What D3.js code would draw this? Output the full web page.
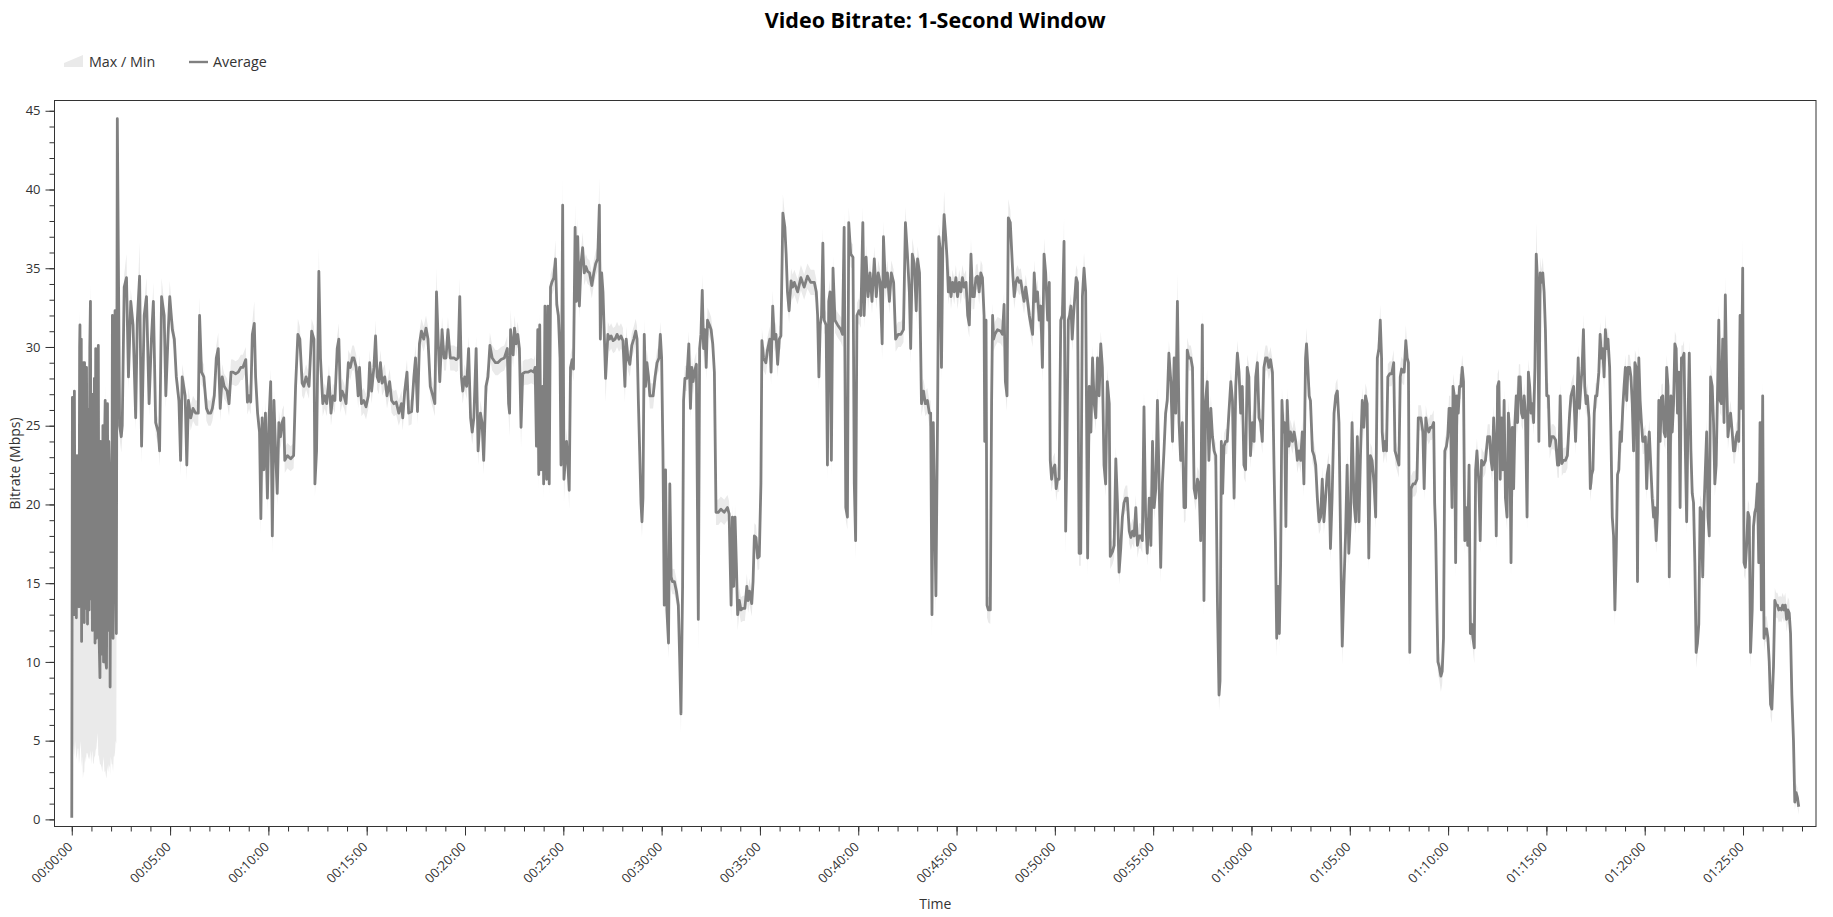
<!DOCTYPE html>
<html lang="en">
<meta charset="utf-8">
<title>Video Bitrate: 1-Second Window</title>
<script src="https://cdn.jsdelivr.net/npm/d3@7"></script>
<style>
  body { margin: 0; background: #fff; }
  svg { font-family: "Open Sans", sans-serif; }
  .axis .domain { display: none; }
  .axis line { stroke: #333; }
  .axis text { fill: #333; font-size: 13px; font-family: "Open Sans", sans-serif; }
</style>
<svg width="1833" height="917"></svg>
<script>
// time of each sample, seconds from start
var secs = [
  0,2,4,5,7,8,10,12,14,16,
  18,20,22,24,25,27,29,30,32,34,
  36,38,39,41,43,45,48,50,53,55,
  57,59,61,63,65,67,69,71,73,75,
  77,79,81,83,86,88,91,93,95,97,
  100,102,104,106,109,111,113,116,117,119,
  122,124,126,128,130,132,134,136,139,
  146,151,154,160,167,173,180,187,195,200,
  207,213,221,228,236,243,249,256,264,268,
  274,282,287,294,299,307,313,319,327,332,
  337,346,351,356,363,370,378,386,390,396,
  403,411,417,424,429,435,441,447,453,459,
  465,474,480,486,492,500,508,516,522,531,
  536,541,546,551,557,561,567,573,577,581,
  586,591,597,602,607,612,617,622,627,632,
  637,642,647,650,658,668,677,683,690,696,
  703,708,715,724,732,739,742,747,754,759,
  766,772,778,785,791,797,803,810,815,820,
  825,831,837,844,850,856,861,868,874,878,
  884,891,898,905,909,915,922,927,932,937,
  942,947,955,962,970,976,983,990,998,1006,
  1010,1016,1023,1028,1037,1044,1049,1055,1061,1067,
  1074,1081,1087,1094,1102,1108,1113,1118,1123,1130,
  1136,1142,1148,1155,1161,1167,1173,1179,1184,1189,
  1193,1199,1205,1211,1217,1222,1227,1234,1240,1247,
  1252,1257,1264,1270,1276,1283,1293,
  1300,1310,1320,1329,1333,1336,1339,1343,1347,1351,
  1356,1361,1366,1371,1376,1383,1392,1402,1410,1414,
  1418,1422,1425,1428,1432,1437,1440,1444,1449,1453,
  1457,1461,1465,1471,1476,1480,1485,1490,1493,1498,
  1502,1505,1510,1514,1518,1522,1527,1531,1536,1540,
  1544,1549,1554,1559,1564,1569,1574,1580,1587,1593,
  1599,1605,1610,1613,1617,1621,1625,1629,1636,1641,
  1646,1652,1658,1664,1670,1676,1682,1688,1692,1697,
  1703,1709,1715,1721,1725,1729,1733,1737,1740,1743,
  1747,1751,1755,1760,1764,1768,1774,1780,1786,1792,
  1796,1800,1804,1808,1812,1816,1821,1825,1829,1833,
  1839,1845,1851,1855,1859,1864,1867,1871,1877,1883,
  1888,1892,1896,1900,1906,1912,1916,1920,1924,1928,
  1932,1936,1940,1946,1951,1956,1961,1966,1973,1981,
  1991,2001,2006,2012,2016,2020,2024,2028,2032,2037,
  2042,2048,2054,2060,2064,2068,2075,2079,2083,2088,
  2093,2098,2103,2106,2111,2118,2123,2130,2134,2139,
  2144,2149,2154,2159,2164,2170,2176,2180,2184,2189,
  2195,2200,2205,2215,2225,2235,2245,2255,2266,2272,
  2276,2280,2284,2288,2292,2296,2302,2306,2310,2314,
  2318,2323,2329,2337,2347,2352,2357,2362,2367,2371,
  2377,2384,2388,2392,2396,2402,2408,2414,2418,2424,
  2430,2436,2442,2449,2455,2461,2467,2473,2477,2483,
  2489,2495,2501,2508,2514,2522,2530,2538,2544,2550,
  2556,2560,2565,2571,2577,2581,2587,2593,2599,2605,
  2611,2617,2621,2625,2629,
  2637,2642,2646,2650,2654,2658,2662,2667,2671,2675,
  2679,2683,2688,2693,2698,2703,2708,2713,2718,2723,
  2729,2734,2739,2744,2749,2754,2759,2764,2769,2774,
  2779,2784,2786,2790,2793,2797,2803,2807,2810,2813,
  2817,2825,2835,2840,2845,2849,2854,2858,2864,2868,
  2872,2876,2881,2886,2891,2896,2901,2906,2911,2917,
  2922,2927,2932,2937,2942,2947,2952,2957,2962,2967,
  2972,2978,2983,2986,2990,2994,3000,3004,3008,3013,
  3018,3023,3028,3033,3036,3041,3045,3049,3053,3057,
  3061,3065,3069,3074,3079,3084,3089,3094,3100,3105,
  3110,3115,3120,3125,3130,3135,3140,3145,3150,3155,
  3160,3166,3169,3176,3181,3186,3191,3196,3201,3206,
  3211,3216,3221,3227,3232,3237,3242,3247,3252,3257,
  3262,3267,3272,3277,3282,3288,3293,3298,3303,3308,
  3313,3318,3323,3328,3333,3338,3343,3348,3354,3359,
  3364,3369,3374,3379,3384,3389,3394,3399,3404,3409,
  3415,3420,3425,3430,3435,3440,3445,3450,3455,3460,
  3465,3470,3476,3481,3486,3491,3496,3501,3504,3508,
  3512,3516,3521,3526,3531,3537,3542,3547,3552,3557,
  3562,3567,3572,3577,3582,3587,3592,3597,3603,3608,
  3613,3618,3623,3628,3633,3638,3643,3648,3653,3658,
  3664,3669,3673,3677,3681,3685,3689,3693,3697,3701,
  3705,3709,3714,3719,3725,3730,3735,3740,3745,3750,
  3755,3760,3765,3768,3772,3776,3780,3786,3791,3796,
  3801,3806,3811,3816,3821,3826,3831,3836,3841,3846,
  3852,3857,3862,3867,3872,3877,3882,3887,3892,3897,
  3902,3907,3913,3918,3923,3928,3933,3938,3943,3948,
  3953,3958,3963,3968,3974,3979,3984,
  3989,3993,3997,3999,4003,4008,4012,4016,4022,4028,
  4034,4038,4042,4046,4050,4054,4058,4062,4066,4071,
  4075,4079,4083,4087,4093,4099,4105,4109,4113,4117,
  4123,4127,4132,4136,4141,4146,4151,4156,4159,4162,
  4166,4169,4173,4178,4182,4186,4190,4195,4199,4203,
  4207,4212,4215,4219,4223,4227,4231,4235,4239,4243,
  4247,4251,4256,4260,4264,4268,4272,4276,4280,4284,
  4288,4294,4298,4302,4308,4314,4321,4327,4331,4335,
  4339,4343,4347,4351,4355,4359,4363,4367,4371,4375,
  4380,4384,4388,4392,4396,4400,4404,4408,4412,4416,
  4420,4424,4428,4432,4436,4441,4445,4449,4453,4457,
  4461,4465,4469,4473,4477,4481,4485,4489,4493,4497,
  4501,4506,4510,4516,4522,4528,4534,4538,4542,4547,
  4552,4558,4564,4571,4575,4579,4583,4589,4593,4597,
  4601,4605,4609,4613,4617,4621,4625,4630,4634,4638,
  4642,4646,4650,4654,4660,4664,4668,4672,4676,4680,
  4684,4688,4693,4697,4701,4705,4709,4713,4717,4721,
  4725,4729,4733,4737,4741,4745,4749,4754,4758,4762,
  4766,4770,4774,4778,4782,4786,4790,4794,4798,4802,
  4806,4810,4814,4819,4823,4827,4831,4835,4839,4843,
  4847,4851,4855,4859,4863,4867,4871,4875,4880,4884,
  4888,4892,4896,4900,4904,4908,4912,4916,4920,4924,
  4928,4932,4936,4941,4945,4949,4953,4957,4961,4965,
  4969,4973,4977,4981,4985,4989,4993,4997,5001,5006,
  5010,5014,5018,5022,5026,5030,5034,5038,5042,5046,
  5050,5054,5058,5062,5067,5071,5075,5079,5083,5087,
  5091,5095,5099,5103,5107,5111,5115,5119,5123,5128,
  5132,5136,5140,5144,5148,5152,5156,5160,5164,5168,
  5172,5176,5180,5184,5188,5193,5197,5201,5205,5209,
  5213,5217,5221,5225,5229,5233,5237,5241,5245,5249,
  5254,5258,5262,5266,5270
];

// 1-second average bitrate, Mbps
var avgMbps = [
  0.1,26.8,14.0,26.8,13.0,27.2,15.0,23.0,12.8,23.1,
  14.5,22.5,13.5,30.0,31.4,16.0,30.5,11.3,28.0,14.0,
  29.0,12.5,29.0,15.0,13.4,28.7,12.4,26.0,13.3,30.0,
  32.9,14.0,27.0,12.0,26.0,13.0,28.0,11.2,29.9,11.5,
  28.0,12.0,30.1,12.0,9.0,24.0,21.3,10.5,25.0,10.0,
  24.0,26.6,10.0,9.6,26.4,12.0,24.0,21.3,8.4,20.0,
  12.0,32.0,11.5,30.0,14.0,32.3,15.0,11.8,44.5,
  25.0,24.3,25.0,33.8,34.4,28.1,32.9,31.4,25.5,31.7,
  34.5,23.7,32.0,33.2,26.4,30.5,32.9,25.2,24.6,23.4,
  33.2,32.0,26.9,30.8,33.2,31.1,30.5,28.1,26.6,22.8,
  28.1,26.9,22.5,26.6,25.5,26.1,25.8,25.8,32.0,28.4,
  28.1,26.1,25.8,25.8,26.1,26.9,29.3,29.9,26.1,28.1,
  27.5,27.2,26.4,28.4,28.4,28.3,28.4,28.7,28.7,29.2,
  26.5,26.9,26.5,30.8,31.5,28.1,25.8,24.6,19.1,25.5,
  22.2,25.8,20.4,25.5,27.8,18.0,26.6,23.4,20.7,25.2,
  24.3,25.2,25.5,22.8,23.1,22.9,23.1,27.5,30.8,30.5,
  27.7,27.5,28.1,27.5,31.0,30.5,21.3,23.4,34.8,29.3,
  26.4,26.9,26.4,28.1,25.8,26.9,26.6,29.9,30.5,26.6,
  27.2,26.9,26.4,29.0,28.7,29.3,29.3,28.7,26.9,28.7,
  26.4,26.6,26.2,26.9,29.0,27.2,28.7,30.7,28.1,27.8,
  29.0,27.7,28.1,26.9,27.8,26.6,26.4,26.5,25.8,26.4,
  25.5,27.2,28.4,25.8,25.9,28.1,29.3,25.9,30.2,31.0,
  30.5,31.2,30.5,27.5,26.9,26.4,33.5,30.5,27.8,31.1,
  29.3,29.3,31.1,29.3,29.3,29.3,29.2,29.3,33.2,28.1,
  27.2,28.1,27.5,29.9,25.5,24.6,25.5,29.9,23.4,25.8,
  25.2,22.8,27.5,28.1,30.1,29.3,29.0,
  29.0,29.2,29.3,29.9,26.4,25.8,31.1,30.2,29.5,31.2,
  30.2,30.8,29.9,24.9,28.3,28.4,28.4,28.5,28.4,28.7,
  23.7,31.1,21.9,31.4,22.2,27.5,21.3,32.6,21.6,32.6,
  21.3,33.8,34.1,34.4,35.6,32.7,32.0,29.3,22.5,39.0,
  21.6,22.5,24.0,22.5,20.9,28.7,29.2,28.6,37.6,32.9,
  37.0,32.6,35.3,36.3,34.7,35.1,34.8,34.7,33.9,34.7,
  35.3,35.6,39.0,30.5,34.7,33.5,30.8,28.0,30.8,30.5,
  30.7,30.4,30.5,30.8,30.5,30.7,30.4,27.5,30.5,29.3,
  28.9,30.1,30.5,31.0,30.5,26.6,23.4,20.1,18.9,20.4,
  30.8,27.5,29.0,28.1,26.9,26.9,26.9,28.1,29.0,29.3,
  30.8,29.3,23.4,13.6,22.2,13.3,11.2,21.3,15.4,15.1,
  15.1,14.5,13.6,10.3,6.7,14.8,26.6,28.0,28.0,30.2,
  26.1,28.7,27.8,28.4,28.9,12.7,29.9,30.8,33.6,29.9,
  31.1,28.7,31.7,31.4,31.1,30.2,28.4,19.5,19.5,19.7,
  19.5,19.8,19.4,13.6,19.2,14.8,19.2,16.3,13.0,13.9,
  13.3,13.4,13.4,14.8,13.9,14.5,13.7,15.1,18.0,17.9,
  16.6,16.7,21.3,30.4,29.3,29.0,29.8,30.5,28.4,32.6,
  30.5,30.8,28.9,30.5,30.7,38.5,37.6,35.9,33.5,32.3,
  34.2,33.8,34.1,33.5,34.4,33.8,34.5,34.1,34.1,33.5,
  32.0,28.1,31.4,32.0,36.6,31.7,31.4,22.5,32.9,33.5,
  22.8,35.0,31.7,31.4,31.1,30.8,37.6,19.8,19.2,37.9,
  35.9,35.7,21.3,17.7,32.0,32.3,32.0,37.9,32.0,35.7,
  33.2,34.7,32.9,35.6,33.2,34.7,34.1,30.2,37.0,33.8,
  34.7,32.9,34.7,34.1,30.5,30.8,30.8,31.1,37.9,35.9,
  33.5,29.9,35.9,35.3,32.3,35.6,34.7,26.4,27.2,26.4,
  26.6,25.8,25.8,13.0,25.2,
  14.2,25.5,37.0,36.2,28.7,36.2,38.4,37.0,35.6,33.5,
  34.4,33.2,34.1,33.5,34.4,33.2,34.1,33.5,34.4,33.8,
  34.1,32.0,31.4,35.9,33.2,33.2,34.4,34.5,33.5,34.7,
  34.4,32.0,24.0,31.7,13.6,13.3,13.3,26.6,32.0,30.5,
  30.8,31.1,31.0,30.8,32.7,27.8,26.9,38.2,37.9,36.2,
  34.5,33.2,34.1,34.4,34.1,34.2,33.5,32.9,33.8,32.9,
  32.0,31.4,30.8,34.7,32.9,33.5,31.7,32.6,28.7,35.9,
  34.7,31.7,34.1,22.8,21.6,22.2,22.5,21.0,21.6,21.6,
  31.7,32.0,36.7,18.3,22.5,31.7,32.0,32.6,30.5,32.0,
  33.2,34.4,34.1,16.9,16.9,33.2,35.0,33.5,16.6,27.5,
  24.6,29.3,26.4,25.5,29.3,26.9,30.2,28.7,22.5,21.3,
  27.8,26.4,16.7,17.0,17.4,22.9,20.1,15.7,17.2,19.2,
  20.1,20.4,20.4,18.3,17.9,18.3,18.0,19.8,17.4,18.0,
  18.0,17.7,26.2,19.2,16.9,20.4,17.4,24.0,19.8,21.0,
  26.6,21.6,16.0,21.3,23.4,25.8,26.6,29.6,27.8,24.0,
  29.3,25.8,32.9,25.2,22.8,25.2,19.8,19.8,29.8,29.3,
  29.3,28.7,21.0,20.4,21.6,21.3,17.7,31.4,13.9,26.6,
  27.8,22.8,26.1,24.3,23.4,23.1,13.9,7.9,8.8,24.0,
  20.7,23.7,24.0,24.0,25.8,27.8,26.6,20.4,27.5,29.6,
  28.4,25.8,27.5,22.5,22.2,28.7,28.1,23.1,25.2,24.0,
  28.1,29.0,25.5,25.2,24.0,28.7,29.3,29.3,28.7,29.2,
  28.4,22.2,17.7,11.5,14.8,11.8,16.3,26.6,24.6,25.2,
  18.6,26.6,23.7,24.6,24.0,24.6,24.0,22.8,23.4,22.8,
  24.6,21.3,29.3,30.2,28.7,26.9,26.6,23.4,23.1,22.5,
  20.4,18.9,19.2,21.6,18.9,20.4,21.9,22.5,17.2,20.4,
  25.8,26.9,27.2,25.2,17.7,11.0,14.8,18.0,22.5,16.9,
  19.2,25.2,20.1,18.9,24.3,18.9,23.4,26.6,24.9,26.9,
  26.4,16.6,23.1,22.8,21.3,19.2,29.3,
  29.9,31.7,29.3,24.6,23.4,24.0,23.4,28.1,28.3,28.3,
  29.0,23.4,23.1,22.8,22.5,28.1,28.6,28.4,28.4,30.4,
  29.3,29.0,10.6,21.0,21.3,21.3,21.6,25.5,25.5,25.5,
  24.6,21.0,25.5,24.9,24.6,24.9,24.9,25.2,20.1,18.3,
  13.3,10.0,9.7,9.1,9.4,11.5,23.4,23.7,24.3,26.1,
  26.1,19.8,27.5,26.9,16.3,26.9,25.8,27.5,27.5,28.7,
  27.8,17.7,19.8,17.4,22.5,11.8,12.4,11.5,10.9,22.2,
  23.4,21.3,17.7,22.8,22.5,22.8,24.3,24.3,22.8,22.2,
  25.5,23.7,18.0,27.5,27.8,21.6,25.5,22.2,26.6,20.4,
  19.2,25.8,24.6,16.3,24.9,21.0,25.2,26.9,25.2,28.1,
  28.1,25.8,25.5,26.9,25.8,19.2,28.4,27.5,25.8,26.4,
  25.2,28.7,35.9,34.1,24.0,34.7,34.1,34.7,33.5,31.1,
  26.9,26.9,23.7,24.3,24.3,24.1,22.5,22.5,26.9,22.6,
  22.8,22.8,23.1,25.8,26.9,27.2,27.5,24.0,26.4,29.3,
  26.1,27.5,28.7,31.1,27.5,26.4,26.9,25.5,21.0,21.9,
  22.2,25.8,26.9,26.9,28.4,30.8,29.3,29.9,28.1,31.1,
  29.9,30.5,28.7,24.3,19.2,18.0,13.3,16.9,21.9,22.2,
  24.6,24.0,26.1,27.5,28.7,26.6,28.7,28.7,28.1,26.4,
  23.4,29.0,28.7,15.1,29.3,26.6,25.2,24.0,24.0,24.3,
  21.0,23.4,24.6,22.2,20.4,19.2,19.8,17.7,19.5,26.6,
  24.0,26.8,26.9,24.6,24.3,28.7,27.5,15.4,26.9,24.6,
  26.4,30.2,29.9,25.8,28.4,19.8,29.3,29.3,29.6,23.4,
  18.9,25.2,29.6,23.4,20.7,20.1,16.3,10.6,11.2,12.4,
  19.8,19.5,15.4,19.8,22.2,24.6,19.2,18.0,28.1,27.5,
  25.2,21.3,22.5,26.9,31.7,26.6,26.4,30.5,25.2,33.3,
  28.1,24.3,25.2,25.8,24.6,23.4,23.4,24.3,24.6,24.0,
  32.0,26.1,35.0,16.3,16.0,17.4,19.5,19.2,10.6,13.3,
  18.6,19.5,19.8,21.3,16.3,25.2,13.3,26.9,11.5,12.1,
  12.1,11.5,10.0,7.3,7.0,9.7,13.9,13.6,13.6,13.3,
  13.4,13.3,13.6,13.3,13.6,12.7,13.3,13.1,11.8,7.9,
  5.0,1.1,1.7,1.4,0.8
];

// how far the window max sits above the average, Mbps
var maxAbove = [
  0.2,1.4,0.4,1.0,0.4,1.0,0.4,1.0,0.4,1.0,
  0.4,1.0,0.4,1.0,1.0,0.4,1.0,0.4,1.0,0.4,
  1.0,0.4,1.0,0.4,0.4,1.0,0.4,1.0,0.4,1.0,
  1.2,0.4,1.0,0.4,1.0,0.4,1.0,0.4,1.0,0.4,
  1.0,0.4,1.2,0.4,0.4,1.0,1.0,0.4,1.0,0.4,
  1.0,1.0,0.4,0.4,1.0,0.4,1.0,1.0,0.4,1.0,
  0.4,1.2,0.4,1.0,0.4,1.5,0.4,0.4,0.7,
  0.8,0.8,0.8,0.8,1.5,0.8,0.8,0.8,0.8,0.8,
  2.2,0.8,0.8,1.2,0.8,0.8,1.2,0.8,0.8,0.8,
  1.2,0.8,0.8,0.8,1.0,0.8,0.8,0.8,0.8,0.8,
  0.8,0.8,0.8,0.8,0.8,0.8,0.8,0.8,1.2,0.8,
  0.8,0.8,0.8,0.8,0.8,0.8,0.8,1.0,0.8,0.8,
  0.8,0.8,0.8,0.8,0.8,0.8,0.8,0.8,0.8,0.8,
  0.8,0.8,0.8,0.8,1.4,0.8,0.8,0.8,0.8,0.8,
  0.8,0.8,0.8,0.8,0.8,0.8,0.8,0.8,0.8,0.8,
  0.8,0.8,0.8,0.8,0.8,0.8,0.8,0.8,1.0,0.8,
  0.8,0.8,0.8,0.8,0.8,0.8,0.8,0.8,1.5,0.8,
  0.8,0.8,0.8,0.8,0.8,0.8,0.8,0.8,1.0,0.8,
  0.8,0.8,0.8,0.8,0.8,0.8,0.8,0.8,0.8,0.8,
  0.8,0.8,0.8,0.8,0.8,0.8,0.8,1.0,0.8,0.8,
  0.8,0.8,0.8,0.8,0.8,0.8,0.8,0.8,0.8,0.8,
  0.8,0.8,0.8,0.8,0.8,0.8,0.8,0.8,0.8,0.8,
  0.8,0.8,0.8,0.8,0.8,0.8,1.5,0.8,0.8,0.8,
  0.8,0.8,0.8,0.8,0.8,0.8,0.8,0.8,1.2,0.8,
  0.8,0.8,0.8,0.8,0.8,0.8,0.8,0.8,0.8,0.8,
  0.8,0.8,0.8,0.8,0.8,0.8,0.8,
  0.8,0.8,0.8,0.8,0.8,0.8,1.3,0.8,0.8,0.8,
  0.8,0.8,0.8,0.8,0.8,0.8,0.8,0.8,0.8,0.8,
  0.8,0.8,0.8,0.8,0.8,0.8,0.8,0.8,0.8,0.8,
  0.8,0.8,0.8,0.8,1.2,0.8,0.8,0.8,0.8,1.8,
  0.8,0.8,0.8,0.8,0.8,0.8,0.8,0.8,1.5,0.8,
  1.2,0.8,0.8,1.0,0.8,0.8,0.8,0.8,0.8,0.8,
  0.8,0.8,1.8,0.8,0.8,0.8,0.8,0.8,0.8,0.8,
  0.8,0.8,0.8,0.8,0.8,0.8,0.8,0.8,0.8,0.8,
  0.8,0.8,0.8,0.8,0.8,0.8,0.8,0.8,0.8,0.8,
  1.0,0.8,0.8,0.8,0.8,0.8,0.8,0.8,0.8,0.8,
  0.8,0.8,0.8,0.8,1.0,0.8,0.8,1.0,0.8,0.8,
  0.8,0.8,0.8,0.8,0.8,0.8,0.8,0.8,0.8,0.8,
  0.8,0.8,0.8,0.8,0.8,0.8,0.8,0.8,1.0,0.8,
  0.8,0.8,0.8,0.8,0.8,0.8,0.8,0.8,0.8,0.8,
  0.8,0.8,0.8,0.8,0.8,0.8,0.8,0.8,0.8,0.8,
  0.8,0.8,0.8,0.8,0.8,0.8,0.8,0.8,0.8,0.8,
  0.8,0.8,0.8,0.8,0.8,0.8,0.8,0.8,0.8,1.0,
  0.8,0.8,0.8,0.8,0.8,1.2,0.8,0.8,0.8,0.8,
  0.8,0.8,0.8,0.8,0.8,0.8,0.8,0.8,0.8,0.8,
  0.8,0.8,0.8,0.8,1.0,0.8,0.8,0.8,0.8,0.8,
  0.8,0.8,0.8,0.8,0.8,0.8,1.0,0.8,0.8,1.0,
  0.8,0.8,0.8,0.8,0.8,0.8,0.8,1.0,0.8,0.8,
  0.8,0.8,0.8,0.8,0.8,0.8,0.8,0.8,1.0,0.8,
  0.8,0.8,0.8,0.8,0.8,0.8,0.8,0.8,1.0,0.8,
  0.8,0.8,1.0,0.8,0.8,0.8,0.8,0.8,0.8,0.8,
  0.8,0.8,0.8,0.8,0.8,
  0.8,0.8,0.8,0.8,0.8,0.8,1.5,0.8,0.8,0.8,
  0.8,0.8,0.8,0.8,0.8,0.8,0.8,0.8,0.8,0.8,
  0.8,0.8,0.8,1.0,0.8,0.8,0.8,0.8,0.8,0.8,
  0.8,0.8,0.8,0.8,0.8,0.8,0.8,0.8,0.8,0.8,
  0.8,0.8,0.8,0.8,0.8,0.8,0.8,1.2,0.8,0.8,
  0.8,0.8,0.8,0.8,0.8,0.8,0.8,0.8,0.8,0.8,
  0.8,0.8,0.8,0.8,0.8,0.8,0.8,0.8,0.8,1.0,
  0.8,0.8,0.8,0.8,0.8,0.8,0.8,0.8,0.8,0.8,
  0.8,0.8,1.5,0.8,0.8,0.8,0.8,0.8,0.8,0.8,
  0.8,0.8,0.8,0.8,0.8,0.8,1.0,0.8,0.8,0.8,
  0.8,0.8,0.8,0.8,0.8,0.8,0.8,0.8,0.8,0.8,
  0.8,0.8,0.8,0.8,0.8,0.8,0.8,0.8,0.8,0.8,
  0.8,0.8,0.8,0.8,0.8,0.8,0.8,0.8,0.8,0.8,
  0.8,0.8,1.0,0.8,0.8,0.8,0.8,0.8,0.8,0.8,
  0.8,0.8,0.8,0.8,0.8,0.8,0.8,0.8,0.8,0.8,
  0.8,0.8,1.8,0.8,0.8,0.8,0.8,0.8,0.8,0.8,
  0.8,0.8,0.8,0.8,0.8,0.8,0.8,1.0,0.8,0.8,
  0.8,0.8,0.8,0.8,0.8,0.8,0.8,0.8,0.8,0.8,
  0.8,0.8,0.8,0.8,0.8,0.8,0.8,0.8,0.8,0.8,
  0.8,0.8,0.8,0.8,0.8,0.8,0.8,0.8,0.8,0.8,
  0.8,0.8,0.8,0.8,0.8,0.8,0.8,0.8,0.8,0.8,
  0.8,0.8,0.8,0.8,0.8,0.8,0.8,0.8,0.8,0.8,
  0.8,0.8,0.8,0.8,0.8,0.8,0.8,0.8,0.8,0.8,
  0.8,0.8,0.8,1.0,0.8,0.8,0.8,0.8,0.8,0.8,
  0.8,0.8,0.8,0.8,0.8,0.8,0.8,0.8,0.8,0.8,
  0.8,0.8,0.8,0.8,0.8,0.8,0.8,0.8,0.8,0.8,
  0.8,0.8,0.8,0.8,0.8,0.8,0.8,0.8,0.8,0.8,
  0.8,0.8,0.8,0.8,0.8,0.8,0.8,
  0.8,1.0,0.8,0.8,0.8,0.8,0.8,0.8,0.8,0.8,
  0.8,0.8,0.8,0.8,0.8,0.8,0.8,0.8,0.8,1.0,
  0.8,0.8,0.8,0.8,0.8,0.8,0.8,0.8,0.8,0.8,
  0.8,0.8,0.8,0.8,0.8,0.8,0.8,0.8,0.8,0.8,
  0.8,0.8,0.8,0.8,0.8,0.8,0.8,0.8,0.8,0.8,
  0.8,0.8,0.8,0.8,0.8,0.8,0.8,0.8,0.8,0.8,
  0.8,0.8,0.8,0.8,0.8,0.8,0.8,0.8,0.8,0.8,
  0.8,0.8,0.8,0.8,0.8,0.8,0.8,0.8,0.8,0.8,
  0.8,0.8,0.8,0.8,0.8,0.8,0.8,0.8,0.8,0.8,
  0.8,0.8,0.8,0.8,0.8,0.8,0.8,0.8,0.8,0.8,
  0.8,0.8,0.8,0.8,0.8,0.8,0.8,0.8,0.8,0.8,
  0.8,0.8,2.0,0.8,0.8,1.0,0.8,1.0,0.8,0.8,
  0.8,0.8,0.8,0.8,0.8,0.8,0.8,0.8,0.8,0.8,
  0.8,0.8,0.8,0.8,0.8,0.8,0.8,0.8,0.8,0.8,
  0.8,0.8,0.8,1.0,0.8,0.8,0.8,0.8,0.8,0.8,
  0.8,0.8,0.8,0.8,0.8,0.8,0.8,0.8,0.8,1.0,
  0.8,0.8,0.8,0.8,0.8,0.8,0.8,0.8,0.8,0.8,
  0.8,0.8,0.8,0.8,0.8,0.8,0.8,0.8,0.8,0.8,
  0.8,0.8,0.8,0.8,0.8,0.8,0.8,0.8,0.8,0.8,
  0.8,0.8,0.8,0.8,0.8,0.8,0.8,0.8,0.8,0.8,
  0.8,0.8,0.8,0.8,0.8,0.8,0.8,0.8,0.8,0.8,
  0.8,0.8,0.8,0.8,0.8,0.8,0.8,0.8,0.8,0.8,
  0.8,0.8,0.8,0.8,0.8,0.8,0.8,0.8,0.8,0.8,
  0.8,0.8,0.8,0.8,0.8,0.8,0.8,0.8,0.8,0.8,
  0.8,0.8,0.8,0.8,1.0,0.8,0.8,0.8,0.8,1.2,
  0.8,0.8,0.8,0.8,0.8,0.8,0.8,0.8,0.8,0.8,
  1.0,0.8,2.0,0.8,0.8,0.8,0.8,0.8,0.8,0.8,
  0.8,0.8,0.8,0.8,0.8,0.8,0.8,1.0,0.8,0.8,
  0.8,0.8,0.8,0.8,0.8,0.8,0.8,0.8,0.8,0.8,
  0.8,0.8,0.8,0.8,0.8,0.8,0.8,0.8,0.8,0.8,
  0.8,0.6,0.6,0.6,0.5
];

// how far the window min sits below the average, Mbps
var minBelow = [
  0.1,22.8,9.5,22.0,9.0,23.0,10.0,18.5,9.0,19.0,
  10.0,18.0,10.0,26.0,27.0,11.0,26.5,8.0,24.0,11.4,
  26.0,9.5,25.5,11.0,9.8,24.5,8.2,22.0,9.5,26.0,
  28.5,10.5,23.0,7.6,22.5,9.4,24.0,7.2,25.5,7.0,
  23.0,6.5,26.0,8.0,5.5,20.5,18.0,7.5,21.5,6.0,
  21.0,23.5,7.2,7.0,23.0,9.0,20.5,18.0,5.6,16.0,
  8.5,28.5,8.5,26.0,10.0,28.0,10.0,7.0,0.5,
  0.8,1.0,0.8,0.8,0.8,0.8,0.8,0.8,0.8,0.8,
  0.8,1.1,0.8,0.8,0.8,0.8,0.8,0.8,0.8,1.0,
  0.8,0.8,0.8,0.8,0.8,0.8,0.8,0.8,0.8,1.0,
  0.8,0.8,1.0,0.8,0.8,0.8,0.8,0.8,0.8,0.8,
  0.8,0.8,0.8,0.8,0.8,0.8,0.8,0.8,0.8,0.8,
  0.8,0.8,0.8,0.8,0.8,0.8,0.8,0.8,0.8,0.8,
  0.8,0.8,0.8,0.8,0.8,0.8,0.8,0.8,1.0,0.8,
  0.8,0.8,0.8,0.8,0.8,1.1,0.8,0.8,0.8,0.8,
  0.8,0.8,0.8,0.8,0.8,0.8,0.8,0.8,0.8,0.8,
  0.8,0.8,0.8,0.8,0.8,0.8,0.8,0.8,0.8,0.8,
  0.8,0.8,0.8,0.8,0.8,0.8,0.8,0.8,0.8,0.8,
  0.8,0.8,0.8,0.8,0.8,0.8,0.8,0.8,0.8,0.8,
  0.8,0.8,0.8,0.8,0.8,0.8,0.8,0.8,0.8,0.8,
  0.8,0.8,0.8,0.8,0.8,0.8,0.8,0.8,0.8,0.8,
  0.8,0.8,0.8,0.8,0.8,0.8,0.8,0.8,0.8,0.8,
  0.8,0.8,0.8,0.8,0.8,0.8,0.8,0.8,0.8,0.8,
  0.8,0.8,0.8,0.8,0.8,0.8,0.8,0.8,0.8,0.8,
  0.8,0.8,0.8,0.8,0.8,0.8,0.8,0.8,0.9,0.8,
  0.8,0.9,0.8,0.8,0.8,0.8,0.8,
  0.8,0.8,0.8,0.8,0.8,1.5,0.8,0.8,0.8,0.8,
  0.8,0.8,0.8,1.3,0.8,0.8,0.8,0.8,0.8,0.8,
  0.8,0.8,1.0,0.8,0.8,0.8,1.0,0.8,0.8,0.8,
  0.8,0.8,0.8,0.8,0.8,0.8,0.8,0.8,1.2,0.8,
  1.5,0.8,0.8,0.8,1.2,0.8,0.8,0.8,0.8,0.8,
  0.8,0.8,0.8,0.8,0.8,0.8,0.8,0.8,0.8,0.8,
  0.8,0.8,0.8,0.8,0.8,0.8,0.8,1.5,0.8,0.8,
  0.8,0.8,0.8,0.8,0.8,0.8,0.8,1.0,0.8,0.8,
  0.8,0.8,0.8,0.8,0.8,0.8,0.8,0.8,1.0,0.8,
  0.8,0.8,0.8,0.8,0.8,0.8,0.8,0.8,0.8,0.8,
  0.8,0.8,0.8,1.0,0.8,1.0,1.0,0.8,0.8,0.8,
  0.8,0.8,0.8,0.8,1.2,0.8,0.8,0.8,0.8,0.8,
  0.8,0.8,0.8,0.8,0.8,2.0,0.8,0.8,0.8,0.8,
  0.8,0.8,0.8,0.8,0.8,0.8,0.8,0.8,0.8,0.8,
  0.8,0.8,0.8,1.0,0.8,0.8,0.8,0.8,1.0,0.8,
  0.8,0.8,0.8,0.8,0.8,0.8,0.8,0.8,0.8,0.8,
  0.8,0.8,0.8,0.8,0.8,0.8,0.8,0.8,0.8,0.8,
  0.8,0.8,0.8,0.8,0.8,0.8,0.8,0.8,0.8,0.8,
  0.8,0.8,0.8,0.8,0.8,0.8,0.8,0.8,0.8,0.8,
  0.8,0.8,0.8,0.8,0.8,0.8,0.8,1.0,0.8,0.8,
  1.0,0.8,0.8,0.8,0.8,0.8,0.8,0.8,0.8,0.8,
  0.8,0.8,0.8,1.2,0.8,0.8,0.8,0.8,0.8,0.8,
  0.8,0.8,0.8,0.8,0.8,0.8,0.8,1.0,0.8,0.8,
  0.8,0.8,0.8,0.8,0.8,0.8,0.8,0.8,0.8,0.8,
  0.8,1.0,0.8,0.8,0.8,0.8,0.8,0.8,0.8,0.8,
  0.8,0.8,0.8,1.5,0.8,
  1.2,0.8,0.8,0.8,0.8,0.8,0.8,0.8,0.8,0.8,
  0.8,0.8,0.8,0.8,0.8,0.8,0.8,0.8,0.8,0.8,
  0.8,0.8,0.8,0.8,0.8,0.8,0.8,0.8,0.8,0.8,
  0.8,0.8,0.8,0.8,0.8,0.8,0.9,0.8,0.8,0.8,
  0.8,0.8,0.8,0.8,0.8,0.8,1.0,0.8,0.8,0.8,
  0.8,0.8,0.8,0.8,0.8,0.8,0.8,0.8,0.8,0.8,
  0.8,0.8,0.8,0.8,0.8,0.8,0.8,0.8,1.0,0.8,
  0.8,0.8,0.8,0.8,0.8,0.8,0.8,0.8,0.8,0.8,
  0.8,0.8,0.8,1.5,0.8,0.8,0.8,0.8,0.8,0.8,
  0.8,0.8,0.8,0.8,0.8,0.8,0.8,0.8,1.2,0.8,
  0.8,0.8,0.8,0.8,0.8,0.8,0.8,0.8,0.8,0.8,
  0.8,0.8,0.8,0.8,0.8,0.8,0.8,0.8,0.8,0.8,
  0.8,0.8,0.8,0.8,0.8,0.8,0.8,0.8,0.8,0.8,
  0.8,0.8,0.8,0.8,0.8,0.8,0.8,0.8,0.8,0.8,
  0.8,0.8,1.0,0.8,0.8,0.8,0.8,0.8,0.8,0.8,
  0.8,0.8,0.8,0.8,0.8,0.8,1.0,0.8,0.8,0.8,
  0.8,0.8,0.8,0.8,0.8,0.8,0.8,0.8,1.0,0.8,
  0.8,0.8,0.8,0.8,0.8,0.8,0.8,1.0,0.8,0.8,
  0.8,0.8,0.8,0.8,0.8,0.8,0.8,0.8,0.8,0.8,
  0.8,0.8,0.8,0.8,0.8,0.8,0.8,0.8,0.8,0.8,
  0.8,0.8,0.8,0.8,0.8,0.8,0.8,0.8,0.8,0.8,
  0.8,0.8,0.8,1.2,0.8,0.8,0.8,0.8,0.8,0.8,
  0.8,0.8,0.8,0.8,0.8,0.8,0.8,0.8,0.8,0.8,
  0.8,0.8,0.8,0.8,0.8,0.8,0.8,0.8,0.8,0.8,
  0.8,0.8,0.8,0.8,0.8,0.8,0.8,0.8,0.8,0.8,
  0.8,0.8,0.8,0.8,0.8,1.2,0.8,0.8,0.8,0.8,
  0.8,0.8,0.8,0.8,0.8,0.8,0.8,0.8,0.8,0.8,
  0.8,0.8,0.8,0.8,0.8,0.8,0.8,
  0.8,0.8,0.8,0.8,0.8,0.8,0.8,0.8,0.8,0.8,
  0.8,0.8,0.8,0.8,0.8,0.8,0.8,0.8,0.8,0.8,
  0.8,0.8,1.0,0.8,0.8,0.8,0.8,0.8,0.8,0.8,
  0.8,0.8,0.8,0.8,0.8,0.8,0.8,0.8,0.8,0.8,
  0.8,0.8,0.8,1.0,0.8,0.8,0.8,0.8,0.8,0.8,
  0.8,0.8,0.8,0.8,1.0,0.8,0.8,0.8,0.8,0.8,
  0.8,0.8,0.8,0.8,0.8,0.8,0.8,0.8,1.0,0.8,
  0.8,0.8,0.8,0.8,0.8,0.8,0.8,0.8,0.8,0.8,
  0.8,0.8,0.8,0.8,0.8,0.8,0.8,0.8,0.8,0.8,
  0.8,0.8,0.8,1.0,0.8,0.8,0.8,0.8,0.8,0.8,
  0.8,0.8,0.8,0.8,0.8,0.8,0.8,0.8,0.8,0.8,
  0.8,0.8,0.8,0.8,0.8,0.8,0.8,0.8,0.8,0.8,
  0.8,0.8,0.8,0.8,0.8,0.8,0.8,0.8,0.8,0.8,
  0.8,0.8,0.8,0.8,0.8,0.8,0.8,0.8,0.8,0.8,
  0.8,0.8,0.8,0.8,0.8,0.8,0.8,0.8,0.8,0.8,
  0.8,0.8,0.8,0.8,0.8,0.8,0.8,0.8,0.8,0.8,
  0.8,0.8,0.8,0.8,0.8,0.8,1.0,0.8,0.8,0.8,
  0.8,0.8,0.8,0.8,0.8,0.8,0.8,0.8,0.8,0.8,
  0.8,0.8,0.8,0.9,0.8,0.8,0.8,0.8,0.8,0.8,
  0.8,0.8,0.8,0.8,0.8,0.8,0.8,0.8,0.8,0.8,
  0.8,0.8,0.8,0.8,0.8,0.8,0.8,0.9,0.8,0.8,
  0.8,0.8,0.8,0.8,0.8,0.8,0.8,0.8,0.8,0.8,
  0.8,0.8,0.8,0.8,0.8,0.8,0.8,1.0,0.8,0.8,
  0.8,0.8,0.8,0.8,0.8,0.8,0.8,0.8,0.8,0.8,
  0.8,0.8,0.8,0.8,0.8,0.8,0.8,0.8,0.8,0.8,
  0.8,0.8,0.8,0.8,0.8,0.8,0.8,0.8,0.8,0.8,
  0.8,0.8,0.8,0.8,0.8,0.8,0.8,0.8,1.0,0.8,
  0.8,0.8,0.8,0.8,0.8,0.8,0.8,0.8,0.8,0.8,
  0.8,0.8,0.8,0.8,0.9,0.8,0.8,0.8,0.8,0.8,
  0.8,0.8,0.8,0.8,0.8,0.8,0.8,0.8,0.8,0.8,
  0.8,0.5,0.6,0.6,0.5
];

var majorTickSecs = d3.range(0, 5101, 300);
var minorTickSecs = d3.range(0, 5281, 60);
var yMajorTicks = d3.range(0, 46, 5);
var yMinorTicks = d3.range(0, 46, 1);
var legendKeys = ["Max / Min", "Average"];

var svg = d3.select("svg");
var margin = {top: 100.5, right: 17, bottom: 90.5, left: 54.5};
var width = 1833 - margin.left - margin.right;
var height = 917 - margin.top - margin.bottom;
var g = svg.append("g").attr("transform", "translate(" + margin.left + "," + margin.top + ")");

var n = Math.min(secs.length, avgMbps.length, maxAbove.length, minBelow.length);
var rows = d3.range(n).map(function(i) {
  return {t: secs[i], avg: avgMbps[i], hi: avgMbps[i] + maxAbove[i], lo: avgMbps[i] - minBelow[i]};
});

var tExt = d3.extent(rows, function(d) { return d.t; });
var tPad = (tExt[1] - tExt[0]) * 0.01;
var x = d3.scaleLinear().domain([tExt[0] - tPad, tExt[1] + tPad]).range([0, width]);

var yLo = d3.min(rows, function(d) { return d.lo; });
var yHi = d3.max(rows, function(d) { return d.hi; });
var yPad = (yHi - yLo) * 0.01;
var y = d3.scaleLinear().domain([yLo - yPad, yHi + yPad]).range([height, 0]);

function hms(s) {
  var h = Math.floor(s / 3600), m = Math.floor((s % 3600) / 60), ss = s % 60;
  return [h, m, ss].map(function(v) { return (v < 10 ? "0" : "") + v; }).join(":");
}

g.append("clipPath").attr("id", "plot-clip")
  .append("rect").attr("width", width).attr("height", height);

var plot = g.append("g").attr("clip-path", "url(#plot-clip)");

plot.append("path")
  .datum(rows)
  .attr("fill", "#eaeaea")
  .attr("d", d3.area()
    .x(function(d) { return x(d.t); })
    .y0(function(d) { return y(d.lo); })
    .y1(function(d) { return y(d.hi); }));

plot.append("path")
  .datum(rows)
  .attr("fill", "none")
  .attr("stroke", "#808080")
  .attr("stroke-width", 2.8)
  .attr("stroke-linejoin", "round")
  .attr("d", d3.line()
    .x(function(d) { return x(d.t); })
    .y(function(d) { return y(d.avg); }));

// x axis: minute ticks + 5 minute labels
g.append("g")
  .attr("class", "axis")
  .attr("transform", "translate(0," + height + ")")
  .call(d3.axisBottom(x).tickValues(minorTickSecs).tickSize(5).tickFormat(""));

g.append("g")
  .attr("class", "axis")
  .attr("transform", "translate(0," + height + ")")
  .call(d3.axisBottom(x).tickValues(majorTickSecs).tickSize(9).tickFormat(hms))
  .selectAll("text")
    .attr("x", 0)
    .attr("y", 0)
    .attr("dy", "0.35em")
    .attr("transform", "translate(-2,18) rotate(-45)")
    .style("text-anchor", "end");

// y axis
g.append("g")
  .attr("class", "axis")
  .call(d3.axisLeft(y).tickValues(yMinorTicks).tickSize(5).tickFormat(""));

g.append("g")
  .attr("class", "axis")
  .call(d3.axisLeft(y).tickValues(yMajorTicks).tickSize(9).tickPadding(5));

g.append("rect")
  .attr("width", width)
  .attr("height", height)
  .attr("fill", "none")
  .attr("stroke", "#333")
  .attr("stroke-width", 1);

// titles
svg.append("text")
  .attr("x", margin.left + width / 2)
  .attr("y", 28)
  .attr("text-anchor", "middle")
  .style("font-size", "21.5px")
  .style("font-weight", "bold")
  .attr("fill", "#000")
  .text("Video Bitrate: 1-Second Window");

svg.append("text")
  .attr("x", margin.left + width / 2)
  .attr("y", 909)
  .attr("text-anchor", "middle")
  .style("font-size", "14px")
  .attr("fill", "#333")
  .text("Time");

svg.append("text")
  .attr("transform", "translate(15," + (margin.top + height / 2) + ") rotate(-90)")
  .attr("text-anchor", "middle")
  .attr("dy", "0.35em")
  .style("font-size", "14px")
  .attr("fill", "#333")
  .text("Bitrate (Mbps)");

// legend
var legend = svg.append("g").style("font-size", "14.3px").attr("fill", "#333");

legend.append("path")
  .attr("d", "M64,67L64,63L83,55L83,67Z")
  .attr("fill", "#eaeaea");
legend.append("text").attr("x", 89).attr("y", 62).attr("dy", "0.35em").text(legendKeys[0]);

legend.append("line")
  .attr("x1", 189).attr("x2", 208).attr("y1", 62).attr("y2", 62)
  .attr("stroke", "#808080").attr("stroke-width", 2.4);
legend.append("text").attr("x", 213).attr("y", 62).attr("dy", "0.35em").text(legendKeys[1]);

if (n !== secs.length || n !== avgMbps.length || n !== maxAbove.length || n !== minBelow.length) {
  throw new Error("length mismatch " + [secs.length, avgMbps.length, maxAbove.length, minBelow.length].join(","));
}
</script>
</html>
